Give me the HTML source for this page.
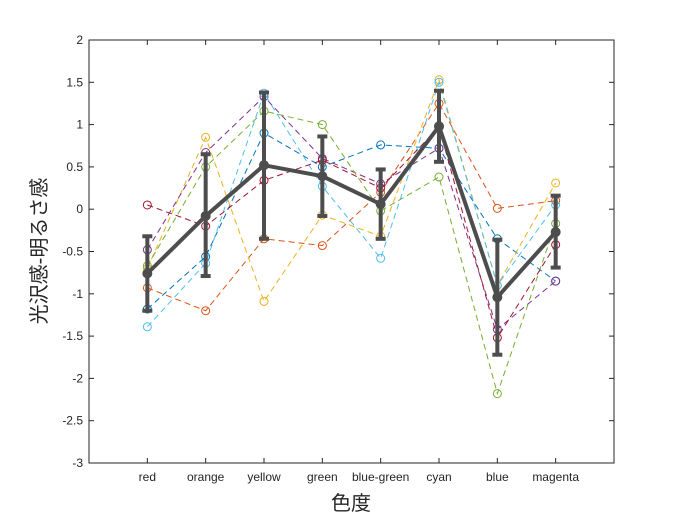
<!DOCTYPE html>
<html><head><meta charset="utf-8"><style>
html,body{margin:0;padding:0;background:#fff;}
svg{display:block;font-family:"Liberation Sans","Noto Sans CJK JP",sans-serif;}
</style></head><body>
<svg id="chart" width="681" height="521" viewBox="0 0 681 521">
<rect x="0" y="0" width="681" height="521" fill="#fff"/>
<g id="grid"></g>
<g id="series"></g>
<g id="axes"></g>
<text x="351" y="510" text-anchor="middle" font-size="20" fill="#262626">色度</text>
<text transform="translate(46,251) rotate(-90)" text-anchor="middle" font-size="20" fill="#262626">光沢感-明るさ感</text>
</svg>
<script>
const categories = ["red","orange","yellow","green","blue-green","cyan","blue","magenta"];
const yTicks = [2,1.5,1,0.5,0,-0.5,-1,-1.5,-2,-2.5,-3];
const yTickLabels = ["2","1.5","1","0.5","0","-0.5","-1","-1.5","-2","-2.5","-3"];
const sBlue = [-1.18,-0.56,0.90,0.50,0.76,0.72,-0.35,-0.85];
const sOrange = [-0.93,-1.20,-0.35,-0.43,0.20,1.25,0.01,0.10];
const sYellow = [-0.70,0.85,-1.09,-0.07,-0.32,1.53,-0.90,0.31];
const sPurple = [-0.48,0.67,1.33,0.60,0.30,0.72,-1.42,-0.85];
const sGreen = [-0.67,0.50,1.16,1.00,-0.02,0.38,-2.18,-0.17];
const sLightBlue = [-1.39,-0.64,1.37,0.27,-0.58,1.50,-0.90,0.05];
const sDarkRed = [0.05,-0.20,0.34,0.58,0.25,0.97,-1.52,-0.42];
const meanVals = [-0.76,-0.08,0.52,0.39,0.06,0.98,-1.04,-0.27];
const errLow = [-1.20,-0.79,-0.35,-0.08,-0.35,0.56,-1.72,-0.69];
const errHigh = [-0.32,0.65,1.38,0.86,0.47,1.40,-0.36,0.16];

const L=89,R=614,T=40,B=463;
const xs=i=>L+(R-L)*(i+1)/9;
const ys=v=>T+(2-v)*(B-T)/5;
const NS="http://www.w3.org/2000/svg";
function mk(tag,attrs,parent){const e=document.createElementNS(NS,tag);for(const k in attrs)e.setAttribute(k,attrs[k]);parent.appendChild(e);return e;}
const axes=document.getElementById('axes'),ser=document.getElementById('series');

const box=mk('rect',{x:L,y:T,width:R-L,height:B-T,fill:'none',stroke:'#262626','stroke-width':1},axes);


yTicks.forEach((v,i)=>{
  const y=ys(v);
  mk('line',{x1:L,x2:L+5,y1:y,y2:y,stroke:'#262626'},axes);
  mk('line',{x1:R,x2:R-5,y1:y,y2:y,stroke:'#262626'},axes);
  const t=mk('text',{x:L-6,y:y+4,'text-anchor':'end','font-size':12,fill:'#262626'},axes);
  t.textContent=yTickLabels[i];
  
  
});
categories.forEach((c,i)=>{
  const x=xs(i);
  mk('line',{x1:x,x2:x,y1:B,y2:B-5,stroke:'#262626'},axes);
  mk('line',{x1:x,x2:x,y1:T,y2:T+5,stroke:'#262626'},axes);
  const t=mk('text',{x:x,y:B+18,'text-anchor':'middle','font-size':12,fill:'#262626'},axes);
  t.textContent=c;
  
  
});

const seriesList=[[sBlue,'#0072BD'],[sOrange,'#D95319'],[sYellow,'#EDB120'],[sPurple,'#7E2F8E'],[sGreen,'#77AC30'],[sLightBlue,'#4DBEEE'],[sDarkRed,'#A2142F']];
seriesList.forEach(([d,col],k)=>{
  const g=mk('g',{},ser);
  
  
  mk('polyline',{points:d.map((v,i)=>xs(i)+','+ys(v)).join(' '),fill:'none',stroke:col,'stroke-width':1,'stroke-dasharray':'6,4'},g);
  d.forEach((v,i)=>{
    const c=mk('circle',{cx:xs(i),cy:ys(v),r:4,fill:'none',stroke:col,'stroke-width':1},g);
    
    
  });
});

const mg=mk('g',{},ser);


const col='#4d4d4d';
meanVals.forEach((v,i)=>{
  const x=xs(i);
  const eb=mk('g',{},mg);
  
  
  mk('line',{x1:x,x2:x,y1:ys(errLow[i]),y2:ys(errHigh[i]),stroke:col,'stroke-width':4},eb);
  mk('line',{x1:x-5,x2:x+5,y1:ys(errLow[i]),y2:ys(errLow[i]),stroke:col,'stroke-width':4},eb);
  mk('line',{x1:x-5,x2:x+5,y1:ys(errHigh[i]),y2:ys(errHigh[i]),stroke:col,'stroke-width':4},eb);
});
mk('polyline',{points:meanVals.map((v,i)=>xs(i)+','+ys(v)).join(' '),fill:'none',stroke:col,'stroke-width':4},mg);
meanVals.forEach((v,i)=>{
  const m=mk('circle',{cx:xs(i),cy:ys(v),r:5,fill:col},mg);
  
  
});
</script>
</body></html>
